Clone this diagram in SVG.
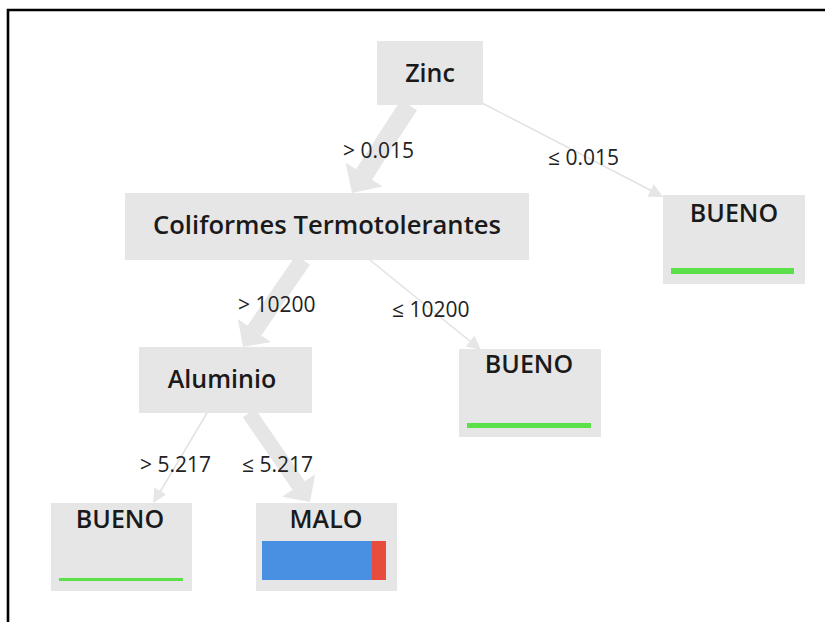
<svg xmlns="http://www.w3.org/2000/svg" width="825" height="622" viewBox="0 0 825 622">
<style>
.box{fill:#e6e6e6}
.nt{font-family:"Open Sans","DejaVu Sans",sans-serif;font-size:25px;font-weight:600;fill:#1a1a1a;text-anchor:middle}
.et{font-family:"Open Sans","DejaVu Sans",sans-serif;font-size:21px;fill:#222;text-anchor:start}
.thick{stroke:#e6e6e6;fill:none}
.thin{stroke:#e2e2e2;stroke-width:1.5;fill:none}
.head{fill:#e6e6e6}
.green{fill:#5ce04a}
</style>
<rect width="825" height="622" fill="#fff"/>
<path d="M8 622 V10 H825" fill="none" stroke="#000" stroke-width="2.6"/>
<g id="connectors">
  <line class="thick" x1="409" y1="105" x2="364" y2="174.5" stroke-width="19"/>
  <polygon class="head" points="352,193 382.5,186.5 345.5,162.5"/>
  <line class="thin" x1="482" y1="103" x2="652" y2="191"/>
  <polygon class="head" points="663,197 647.4,196.7 653.8,184.3"/>
  <line class="thick" x1="303" y1="260" x2="254.4" y2="330.5" stroke-width="17"/>
  <polygon class="head" points="243,347 270.9,341.9 237.9,319.1"/>
  <line class="thin" x1="370" y1="260" x2="471" y2="342"/>
  <polygon class="head" points="481,350 465.7,346.6 474.5,335.8"/>
  <line class="thin" x1="207" y1="413" x2="160" y2="492"/>
  <polygon class="head" points="153,503 166.2,494.6 154.2,487.4"/>
  <line class="thick" x1="249" y1="413" x2="298.7" y2="485.5" stroke-width="15"/>
  <polygon class="head" points="310,502 315.2,474.2 282.2,496.8"/>
  <text class="et" x="343" y="158">&gt; 0.015</text>
  <text class="et" x="548" y="165">≤ 0.015</text>
  <text class="et" x="238" y="312">&gt; 10200</text>
  <text class="et" x="392" y="317">≤ 10200</text>
  <text class="et" x="140" y="472">&gt; 5.217</text>
  <text class="et" x="242" y="472">≤ 5.217</text>
</g>
<g id="node-zinc">
  <rect class="box" x="377" y="41" width="106" height="64"/>
  <text class="nt" x="430" y="82">Zinc</text>
</g>
<g id="node-coliformes">
  <rect class="box" x="125" y="193" width="404" height="67"/>
  <text class="nt" x="327" y="234" textLength="348" lengthAdjust="spacingAndGlyphs">Coliformes Termotolerantes</text>
</g>
<g id="node-bueno-1">
  <rect class="box" x="663" y="195" width="142" height="89"/>
  <text class="nt" x="734" y="222">BUENO</text>
  <rect class="green" x="671" y="268" width="123" height="6"/>
</g>
<g id="node-aluminio">
  <rect class="box" x="139" y="347" width="173" height="66"/>
  <text class="nt" x="222" y="388">Aluminio</text>
</g>
<g id="node-bueno-2">
  <rect class="box" x="459" y="349" width="142" height="88"/>
  <text class="nt" x="529" y="373">BUENO</text>
  <rect class="green" x="467" y="423" width="124" height="5"/>
</g>
<g id="node-bueno-3">
  <rect class="box" x="51" y="503" width="141" height="88"/>
  <text class="nt" x="120" y="528">BUENO</text>
  <rect class="green" x="59" y="578" width="124" height="3"/>
</g>
<g id="node-malo">
  <rect class="box" x="256" y="503" width="141" height="88"/>
  <text class="nt" x="326" y="528">MALO</text>
  <rect x="262" y="541" width="110" height="39" fill="#4a90e2"/>
  <rect x="372" y="541" width="14" height="39" fill="#e74c3c"/>
</g>
</svg>
